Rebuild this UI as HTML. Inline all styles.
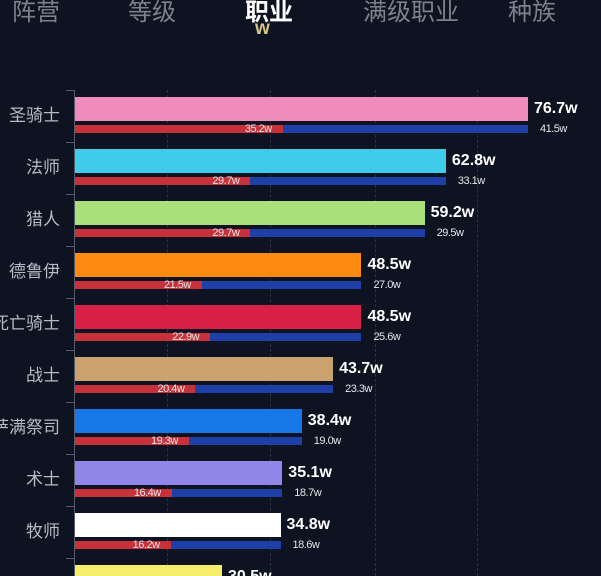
<!DOCTYPE html>
<html><head><meta charset="utf-8"><style>
html,body{margin:0;width:601px;height:576px;overflow:hidden}
body{background:#0e1321;font-family:"Liberation Sans","Noto Sans CJK SC",sans-serif;position:relative}
.a{position:absolute}
.tab{position:absolute;top:-8px;font-size:24px;color:#7d818d;white-space:nowrap}
.lab{position:absolute;right:541px;font-size:17px;color:#b8bac2;white-space:nowrap}
.v{position:absolute;font-size:16px;font-weight:bold;color:#fff;white-space:nowrap}
.s{position:absolute;font-size:11px;color:#e6e6ea;white-space:nowrap;letter-spacing:-0.5px}
.g{position:absolute;top:90px;height:486px;width:0;border-left:1px dashed #2b3146}
</style></head><body>
<div class="tab" style="left:12px">阵营</div>
<div class="tab" style="left:128px">等级</div>
<div class="tab" style="left:245px;color:#fff;font-weight:bold">职业</div>
<div class="tab" style="left:363px">满级职业</div>
<div class="tab" style="left:508px">种族</div>
<div class="a" style="left:255px;top:18px;font-size:19px;font-weight:bold;color:#d9c48a">w</div>
<div class="g" style="left:167px"></div><div class="g" style="left:270px"></div><div class="g" style="left:375px"></div><div class="g" style="left:477px"></div>
<div class="a" style="left:74px;top:90px;width:1px;height:486px;background:#555b6b"></div>
<div id="c"></div>
<script>
var d=[["圣骑士",76.7,35.2,41.5,"#f08cbc"],["法师",62.8,29.7,33.1,"#3fcbea"],["猎人",59.2,29.7,29.5,"#a9e07a"],["德鲁伊",48.5,21.5,27.0,"#ff8a10"],["死亡骑士",48.5,22.9,25.6,"#d81f45"],["战士",43.7,20.4,23.3,"#c9a26e"],["萨满祭司",38.4,19.3,19.0,"#1677e6"],["术士",35.1,16.4,18.7,"#8f86e8"],["牧师",34.8,16.2,18.6,"#ffffff"],["",30.5,0,0,"#f5ee6a"]];
var k=5.906,h="";
d.forEach(function(r,i){var y=97+i*52,e=75+r[1]*k;if(i==9)e=222;
h+='<div class="a" style="left:66px;top:'+(y-7)+'px;width:8px;height:1px;background:#555b6b"></div>';
h+='<div class="lab" style="top:'+(y+4)+'px">'+r[0]+'</div>';
h+='<div class="a" style="left:75px;top:'+y+'px;width:'+(e-75)+'px;height:24px;background:'+r[4]+'"></div>';
h+='<div class="v" style="left:'+(e+6)+'px;top:'+(y+3)+'px">'+r[1].toFixed(1)+'w</div>';
if(i<9){var rx=75+r[2]*k;
h+='<div class="a" style="left:75px;top:'+(y+28)+'px;width:'+(rx-75)+'px;height:8px;background:#c8303a"></div>';
h+='<div class="a" style="left:'+rx+'px;top:'+(y+28)+'px;width:'+(e-rx)+'px;height:8px;background:#1e3fa6"></div>';
h+='<div class="s" style="left:'+(rx-38)+'px;top:'+(y+26)+'px">'+r[2].toFixed(1)+'w</div>';
h+='<div class="s" style="left:'+(e+12)+'px;top:'+(y+26)+'px">'+r[3].toFixed(1)+'w</div>';}
});
document.getElementById("c").innerHTML=h;
</script>
</body></html>
